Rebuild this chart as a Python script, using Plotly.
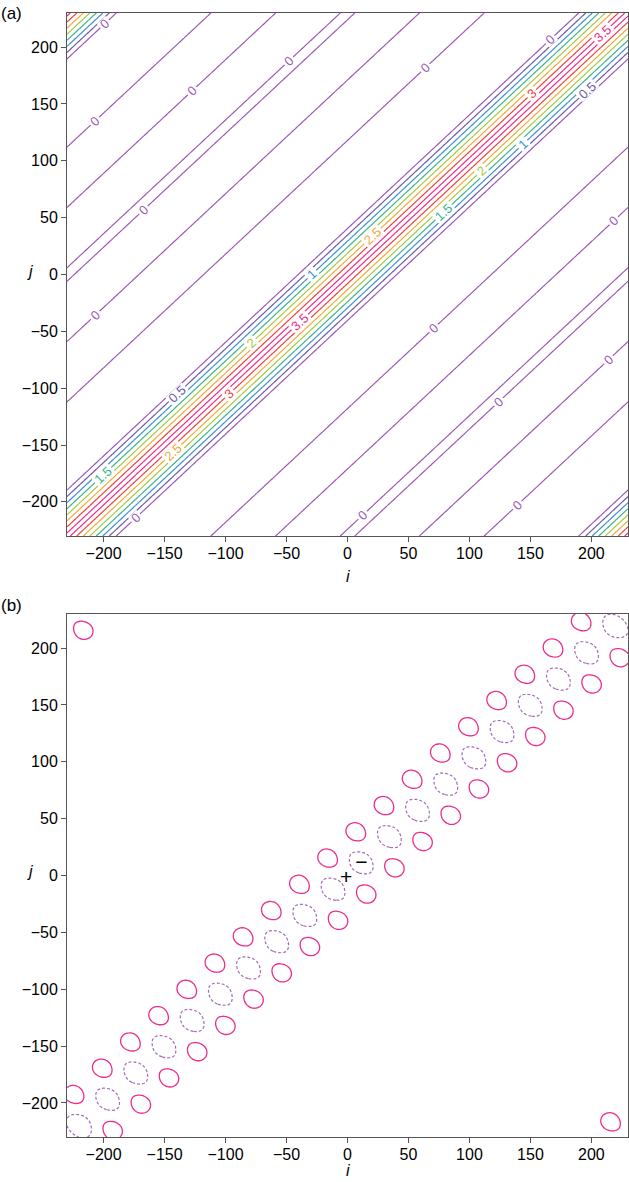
import numpy as np
import plotly.graph_objects as go
from plotly.subplots import make_subplots

# ---- panel (a): covariance vs lag d = i - j (periodic)
lag = [0, 40, 79, 118, 145, 171, 198, 224, 230]
cov = [3.75, 0.0, -0.22, 0.0, 0.18, 0.0, -0.15, 0.0, 0.03]
period_a = 460
levels_a = [0, 0.5, 1, 1.5, 2, 2.5, 3, 3.5]
colors_a = ["#9b59b6", "#6c5ba8", "#3d8fd6", "#3cb48c",
            "#a5c93c", "#f2a93b", "#ef4136", "#ee2b87"]

# ---- panel (b): lobes, s = (i+j)/2 along the diagonal, d = i - j across it
neg_s = [-219.8, -196.7, -173.6, -150.5, -127.4, -104.3, -81.2, -58.1, -35.0, -11.9,
         11.2, 34.3, 57.4, 80.5, 103.6, 126.7, 149.8, 172.9, 196.0, 219.1]
neg_d = [0.2]
pos_s = [-208.4, -185.3, -162.2, -139.1, -116.0, -92.9, -69.8, -46.7, -23.6, -0.5,
         22.6, 45.7, 68.8, 91.9, 115.0, 138.1, 161.2, 184.3, 207.4]
pos_d = [-30.4, 30.4]
period_b = 464
neg_width = (5.4, 15.0)   # sigma along s, along d
pos_width = (4.9, 11.2)
level_b = 0.5
marks_i = [-1.1, 11.4]
marks_j = [-3.2, 10.0]
marks_txt = ["+", "−"]

ticks = [-200, -150, -100, -50, 0, 50, 100, 150, 200]

grid = np.linspace(-230, 230, 308)
I, J = np.meshgrid(grid, grid)

da = (I - J + period_a / 2) % period_a - period_a / 2
za = np.round(np.interp(np.abs(da), lag, cov), 4)

S = (I + J) / 2
db = (I - J + period_b / 2) % period_b - period_b / 2
zb = np.zeros_like(S)
for s0 in neg_s:
    for d0 in neg_d:
        zb -= np.exp(-0.5 * ((S - s0) / neg_width[0]) ** 2 - 0.5 * ((db - d0) / neg_width[1]) ** 2)
for s0 in pos_s:
    for d0 in pos_d:
        zb += np.exp(-0.5 * ((S - s0) / pos_width[0]) ** 2 - 0.5 * ((db - d0) / pos_width[1]) ** 2)
zb = np.round(zb, 4)

FONT = "Liberation Sans, Arial, sans-serif"

fig = make_subplots(rows=2, cols=1)

fig.add_trace(go.Contour(
    x=grid, y=grid, z=za,
    autocontour=False,
    contours=dict(start=levels_a[0], end=levels_a[-1], size=0.5, coloring="lines",
                  showlabels=True, labelfont=dict(size=13, family=FONT)),
    zauto=False, zmin=levels_a[0], zmax=levels_a[-1],
    colorscale=[[k / (len(colors_a) - 1), c] for k, c in enumerate(colors_a)],
    showscale=False, line=dict(width=1.2), hoverinfo="skip",
), row=1, col=1)

fig.add_trace(go.Contour(
    x=grid, y=grid, z=zb,
    autocontour=False,
    contours=dict(start=level_b, end=level_b, size=1, coloring="none"),
    line=dict(color="#ec2d8c", width=1.3), showscale=False, hoverinfo="skip",
), row=2, col=1)

fig.add_trace(go.Contour(
    x=grid, y=grid, z=zb,
    autocontour=False,
    contours=dict(start=-level_b, end=-level_b, size=1, coloring="none"),
    line=dict(color="#a26bb8", width=1.2, dash="3px,2px"), showscale=False, hoverinfo="skip",
), row=2, col=1)

fig.add_trace(go.Scatter(
    x=marks_i, y=marks_j, text=marks_txt, mode="text",
    textfont=dict(size=21, color="black", family=FONT), hoverinfo="skip",
), row=2, col=1)

axis_style = dict(range=[-230, 230], tickvals=ticks, ticks="outside", ticklen=5,
                  tickcolor="#555", showline=True, linecolor="#555", linewidth=1,
                  mirror=True, showgrid=False, zeroline=False,
                  tickfont=dict(size=16, family=FONT, color="black"))
fig.update_xaxes(ticklabelstandoff=-2, **axis_style)
fig.update_yaxes(**axis_style)
fig.update_layout(yaxis=dict(domain=[0.5347, 1]), yaxis2=dict(domain=[0, 0.4653]))

ann = dict(xref="paper", yref="paper", showarrow=False, borderpad=0,
           font=dict(size=17, family=FONT, color="black"))
ann_i = dict(xref="paper", yref="paper", showarrow=False, borderpad=0,
             font=dict(size=16, family=FONT, color="black"))
fig.update_layout(annotations=[
    dict(text="(a)", x=-0.12, y=1.0, xanchor="left", yanchor="middle", **ann),
    dict(text="(b)", x=-0.12, y=0.4733, xanchor="left", yanchor="middle", **ann),
    dict(text="<i>i</i>", x=0.5, y=0.4985, xanchor="center", yanchor="middle", **ann_i),
    dict(text="<i>i</i>", x=0.5, y=-0.0383, xanchor="center", yanchor="bottom", **ann_i),
    dict(text="<i>j</i>", x=-0.066, y=0.7696, xanchor="center", yanchor="middle", **ann_i),
    dict(text="<i>j</i>", x=-0.066, y=0.2358, xanchor="center", yanchor="middle", **ann_i),
])

fig.update_layout(
    width=629, height=1182,
    margin=dict(l=67, r=1, t=13, b=45),
    plot_bgcolor="white", paper_bgcolor="white",
    showlegend=False,
)

fig.write_html("out.html", config={"displayModeBar": False},
               post_script="document.body.style.margin='0';")
